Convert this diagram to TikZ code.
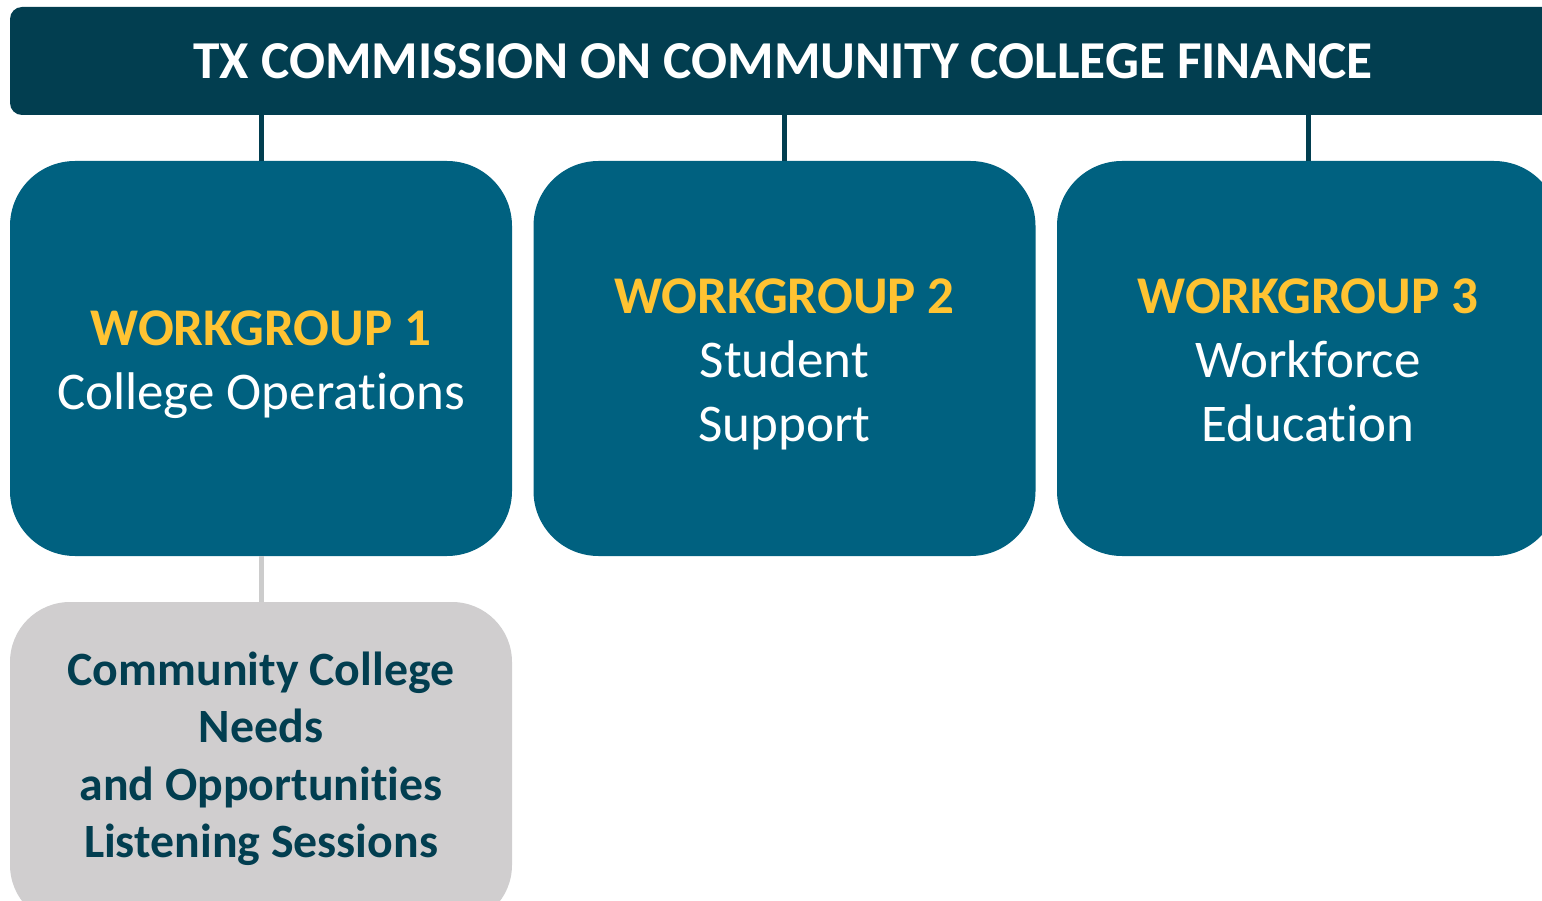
\documentclass[tikz,border=0pt]{standalone}
\usepackage{fontspec}
\setmainfont{Carlito}[Ligatures=CommonOff]
\definecolor{bardark}{RGB}{2,62,80}
\definecolor{wgblue}{RGB}{0,97,128}
\definecolor{wgyellow}{RGB}{255,195,50}
\definecolor{lsgray}{RGB}{208,206,207}
\definecolor{linegray}{RGB}{204,204,204}
\begin{document}
\begin{tikzpicture}[x=1pt,y=-1pt,
  bar/.style={fill=bardark, rounded corners=12pt, minimum width=1546pt, minimum height=108pt, inner sep=0pt},
  bartext/.style={text=white, font=\fontsize{53.3}{60}\selectfont\bfseries, inner sep=0pt},
  wgbox/.style={fill=wgblue, rounded corners=65pt, minimum width=502pt, minimum height=395pt, inner sep=0pt},
  wgtext/.style={text=white, align=center, font=\fontsize{53}{64}\selectfont, inner sep=0pt},
  lsbox/.style={fill=lsgray, rounded corners=60pt, minimum width=502pt, minimum height=323pt, inner sep=0pt},
  lstext/.style={text=bardark, align=center, font=\fontsize{47.8}{57.5}\selectfont\bfseries, inner sep=0pt},
  conn/.style={draw=bardark, line width=5pt},
  gconn/.style={draw=linegray, line width=5pt}
]
\useasboundingbox (0,0) rectangle (1542,901);
\clip (0,0) rectangle (1542,901);
\node[bar] (top) at (783,61) {};
\node[bartext] (topt) at (783,61) {TX COMMISSION ON COMMUNITY COLLEGE FINANCE};
\node[wgbox] (wg1) at (261,358.5) {};
\node[wgbox] (wg2) at (784.5,358.5) {};
\node[wgbox] (wg3) at (1308,358.5) {};
\node[wgtext] (wg1t) at (261,364.5) {{\color{wgyellow}\bfseries WORKGROUP 1}\\College Operations};
\node[wgtext] (wg2t) at (784.5,364.5) {{\color{wgyellow}\bfseries WORKGROUP 2}\\Student\\Support};
\node[wgtext] (wg3t) at (1308,360.5) {{\color{wgyellow}\bfseries WORKGROUP 3}\\Workforce\\Education};
\node[lsbox] (ls) at (261,763.5) {};
\node[lstext] (lst) at (261,759) {Community College\\Needs\\and Opportunities\\Listening Sessions};
\draw[conn] (top.south -| wg1.north) -- (wg1.north);
\draw[conn] (top.south -| wg2.north) -- (wg2.north);
\draw[conn] (top.south -| wg3.north) -- (wg3.north);
\draw[gconn] (wg1.south) -- (ls.north);
\end{tikzpicture}
\end{document}
